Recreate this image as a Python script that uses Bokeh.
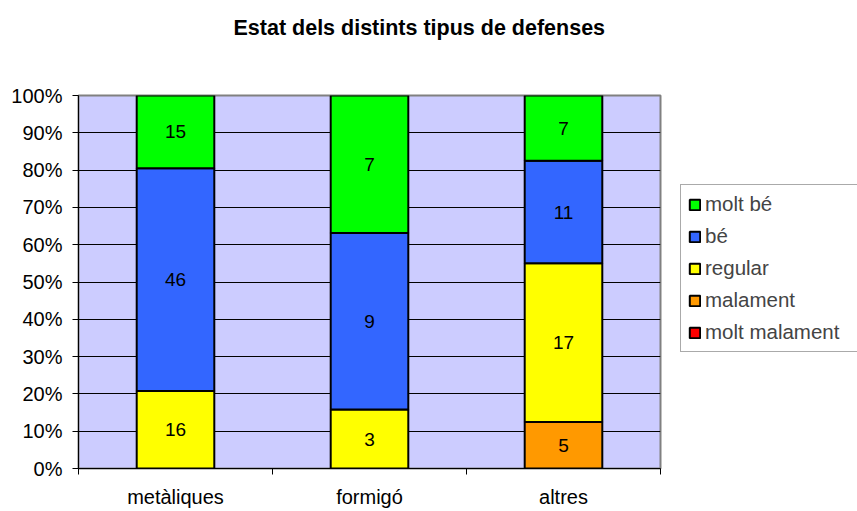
import numpy as np
from bokeh.plotting import figure
from bokeh.models import (ColumnDataSource, FixedTicker, NumeralTickFormatter,
                          Legend, LegendItem, Title)
from bokeh.embed import file_html
from bokeh.resources import INLINE
from bokeh.core.properties import value

# ---- data ----
title_text = "Estat dels distints tipus de defenses"
categories = ["metàliques", "formigó", "altres"]
series_names = ["molt malament", "malament", "regular", "bé", "molt bé"]
molt_malament = [0, 0, 0]
malament = [0, 0, 5]
regular = [16, 3, 17]
be = [46, 9, 11]
molt_be = [15, 7, 7]
series_colors = ["#FF0000", "#FF9900", "#FFFF00", "#3366FF", "#00FF00"]
y_tick_values = [0.0, 0.1, 0.2, 0.3, 0.4, 0.5, 0.6, 0.7, 0.8, 0.9, 1.0]

FONT = "Liberation Sans"
FS = "20px"

counts = np.array([molt_malament, malament, regular, be, molt_be], dtype=float)
totals = counts.sum(axis=0)
fracs = counts / totals
xs = [i + 0.5 for i in range(len(categories))]
keys = [f"s{i}" for i in range(len(series_names))]

data = {"x": xs}
for k, f in zip(keys, fracs):
    data[k] = list(f)
src = ColumnDataSource(data)

p = figure(x_range=(0, len(categories)), y_range=(0, 1),
           frame_width=582, frame_height=373,
           min_border_left=78, min_border_right=197,
           min_border_top=95, min_border_bottom=43,
           output_backend="svg", toolbar_location=None)
p.border_fill_color = "white"
p.background_fill_color = "#CCCCFF"
p.outline_line_color = "#808080"
p.outline_line_width = 2

renderers = p.vbar_stack(keys, x="x", width=0.4, source=src,
                         fill_color=series_colors, line_color="black",
                         line_width=2)

# segment labels
lx, ly, lt = [], [], []
for j, x in enumerate(xs):
    base = 0.0
    for i in range(len(series_names)):
        f = fracs[i][j]
        if counts[i][j] > 0:
            lx.append(x)
            ly.append(base + f / 2)
            lt.append(str(int(counts[i][j])))
        base += f
p.text(x=lx, y=ly, text=lt, text_align="center", text_baseline="middle",
       text_font=value(FONT), text_font_size="19px", text_color="black")

# axes
p.xgrid.visible = False
p.ygrid.grid_line_color = "black"
p.ygrid.grid_line_width = 1
p.ygrid.ticker = FixedTicker(ticks=y_tick_values)

p.yaxis.ticker = FixedTicker(ticks=y_tick_values)
p.yaxis.formatter = NumeralTickFormatter(format="0%")
p.yaxis.major_tick_in = 0
p.yaxis.major_tick_out = 6
p.yaxis.minor_tick_line_color = None
p.yaxis.major_label_standoff = 10
p.yaxis.axis_line_color = "black"
p.yaxis.major_label_text_font = FONT
p.yaxis.major_label_text_font_size = FS
p.yaxis.major_label_text_color = "black"

p.xaxis.ticker = FixedTicker(ticks=xs, minor_ticks=list(range(len(categories) + 1)))
p.xaxis.major_label_overrides = {x: c for x, c in zip(xs, categories)}
p.xaxis.major_tick_in = 0
p.xaxis.major_tick_out = 0
p.xaxis.minor_tick_in = 0
p.xaxis.minor_tick_out = 6
p.xaxis.minor_tick_line_color = "black"
p.xaxis.major_label_standoff = 11
p.xaxis.axis_line_color = "black"
p.xaxis.major_label_text_font = FONT
p.xaxis.major_label_text_font_size = FS
p.xaxis.major_label_text_color = "black"

# legend (top to bottom: molt bé ... molt malament)
items = [LegendItem(label=series_names[i], renderers=[renderers[i]])
         for i in reversed(range(len(series_names)))]
legend = Legend(items=items, location=(20, 116))
legend.label_text_font = FONT
legend.label_text_font_size = "20.5px"
legend.glyph_width = 13
legend.glyph_height = 13
legend.label_height = 20
legend.spacing = 8
legend.padding = 7
legend.margin = 0
legend.label_standoff = 4
legend.label_width = 160
legend.border_line_color = "#555555"
legend.border_line_width = 1
legend.background_fill_color = "white"
legend.background_fill_alpha = 1
p.add_layout(legend, "right")

# spacer between frame and title (closest to the frame), then the title
spacer = Title(text=" ", standoff=43, text_font=FONT, text_font_size="10px")
p.add_layout(spacer, "above")
title = Title(text=title_text, align="left", offset=155, standoff=0,
              text_font=FONT, text_font_size="21.5px", text_font_style="bold",
              text_color="black")
p.add_layout(title, "above")

open("out.html", "w").write(file_html(p, INLINE))
